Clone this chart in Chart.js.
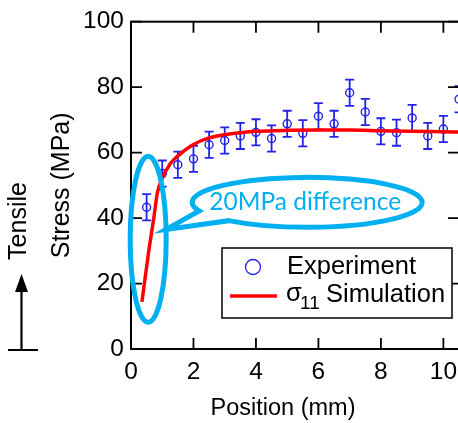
<!DOCTYPE html>
<html>
<head>
<meta charset="utf-8">
<script src="https://cdn.jsdelivr.net/npm/chart.js@4.4.1/dist/chart.umd.min.js"></script>
<style>
    html, body { margin: 0; padding: 0; background: #fff; }
    #wrap { width: 458px; height: 423px; overflow: hidden; position: relative; }
    canvas { display: block; }
</style>
</head>
<body>
<div id="wrap"><canvas id="myChart" width="475" height="423"></canvas></div>
<script>
// measured points (position in mm, stress in MPa, error bar half length)
const expPosition = [0.5, 1.0, 1.5, 2.0, 2.5, 3.0, 3.5, 4.0, 4.5, 5.0, 5.5, 6.0, 6.5, 7.0, 7.5, 8.0, 8.5, 9.0, 9.5, 10.0, 10.5];
const expStress = [43.3, 53.6, 56.3, 58.1, 62.4, 63.7, 65.1, 66.2, 64.3, 68.8, 65.9, 71.1, 68.8, 78.3, 72.4, 66.5, 66.1, 70.6, 65.1, 67.2, 76.3];
const expError = [4, 4, 4, 4, 4, 4, 4, 4, 4, 4, 4, 4, 4, 4, 4, 4, 4, 4, 4, 4, 4];

// simulated sigma_11
const simPosition = [0.35, 0.57, 0.73, 0.84, 0.97, 1.25, 1.5, 2.0, 2.5, 3.0, 3.5, 4.0, 5.0, 6.0, 7.0, 8.0, 9.0, 10.0, 10.6];
const simStress = [14.4, 30, 40, 47.5, 51.5, 56.5, 59, 62.5, 64.5, 65.5, 66.1, 66.5, 66.8, 66.9, 66.9, 66.7, 66.5, 66.4, 66.3];

const xTicks = [0, 2, 4, 6, 8, 10];
const yTicks = [0, 20, 40, 60, 80, 100];

const FONT = '"Liberation Sans", Arial, sans-serif';
const BLUE = '#2323E8';
const CYAN = '#00B0F0';

// error bars + inward ticks + frame + labels + callout
const extras = {
    id: 'extras',
    beforeDatasetsDraw(chart) {
        const ctx = chart.ctx;
        const xs = chart.scales.x, ys = chart.scales.y;
        const area = chart.chartArea;
        ctx.save();
        ctx.beginPath();
        ctx.rect(area.left, area.top - 10, area.right - area.left, area.bottom - area.top + 10);
        ctx.clip();
        ctx.strokeStyle = BLUE;
        ctx.lineWidth = 1.8;
        expPosition.forEach(function (p, i) {
            const x = xs.getPixelForValue(p);
            const y1 = ys.getPixelForValue(expStress[i] + expError[i]);
            const y2 = ys.getPixelForValue(expStress[i] - expError[i]);
            ctx.beginPath();
            ctx.moveTo(x, y1); ctx.lineTo(x, y2);
            ctx.moveTo(x - 4.5, y1); ctx.lineTo(x + 4.5, y1);
            ctx.moveTo(x - 4.5, y2); ctx.lineTo(x + 4.5, y2);
            ctx.stroke();
        });
        ctx.restore();
    },
    afterDraw(chart) {
        const ctx = chart.ctx;
        const xs = chart.scales.x, ys = chart.scales.y;
        const a = chart.chartArea;
        const tl = 11;
        ctx.save();
        // frame
        ctx.strokeStyle = '#000';
        ctx.lineWidth = 2;
        ctx.strokeRect(a.left, a.top, a.right - a.left, a.bottom - a.top);
        // inward ticks
        ctx.lineWidth = 1.8;
        ctx.beginPath();
        xTicks.forEach(function (v) {
            const x = xs.getPixelForValue(v);
            ctx.moveTo(x, a.bottom); ctx.lineTo(x, a.bottom - tl);
            ctx.moveTo(x, a.top); ctx.lineTo(x, a.top + tl);
        });
        yTicks.forEach(function (v) {
            const y = ys.getPixelForValue(v);
            ctx.moveTo(a.left, y); ctx.lineTo(a.left + tl, y);
            ctx.moveTo(a.right, y); ctx.lineTo(a.right - tl, y);
        });
        ctx.stroke();

        // x title
        ctx.fillStyle = '#000';
        ctx.font = '23.5px ' + FONT;
        ctx.textAlign = 'center';
        ctx.textBaseline = 'middle';
        ctx.fillText('Position (mm)', 283, 409);

        // "Tensile" and arrow
        ctx.save();
        ctx.translate(19, 221);
        ctx.rotate(-Math.PI / 2);
        ctx.font = '25px ' + FONT;
        ctx.fillText('Tensile', 0, 0);
        ctx.restore();
        ctx.lineWidth = 2.2;
        ctx.beginPath();
        ctx.moveTo(21.5, 350); ctx.lineTo(21.5, 288);
        ctx.moveTo(8, 350); ctx.lineTo(38, 350);
        ctx.stroke();
        ctx.beginPath();
        ctx.moveTo(21.5, 274); ctx.lineTo(15, 292); ctx.lineTo(28, 292);
        ctx.closePath();
        ctx.fill();

        // legend
        ctx.fillStyle = '#fff';
        ctx.fillRect(222, 248, 230, 70);
        ctx.lineWidth = 1.5;
        ctx.strokeStyle = '#000';
        ctx.strokeRect(222, 248, 230, 70);
        ctx.strokeStyle = BLUE;
        ctx.lineWidth = 1.3;
        ctx.beginPath();
        ctx.arc(253, 267, 7.5, 0, Math.PI * 2);
        ctx.stroke();
        ctx.strokeStyle = '#FF0000';
        ctx.lineWidth = 3.5;
        ctx.beginPath();
        ctx.moveTo(230, 296); ctx.lineTo(277, 296);
        ctx.stroke();
        ctx.fillStyle = '#000';
        ctx.textAlign = 'left';
        ctx.font = '25.5px ' + FONT;
        ctx.fillText('Experiment', 287, 267);
        ctx.fillText('\u03C3', 286, 294);
        ctx.font = '19px ' + FONT;
        ctx.fillText('11', 300, 304);
        ctx.font = '25.5px ' + FONT;
        ctx.fillText('Simulation', 326, 295);

        // callout ellipses
        ctx.strokeStyle = CYAN;
        ctx.lineWidth = 5;
        const ex = xs.getPixelForValue(0.55), ey = ys.getPixelForValue(33.5);
        ctx.beginPath();
        ctx.ellipse(ex, ey, 18, 83, 0, 0, Math.PI * 2);
        ctx.stroke();

        const bx = xs.getPixelForValue(5.64), by = ys.getPixelForValue(44.8);
        const rx = 115, ry = 25;
        const aStart = 133 * Math.PI / 180, aEnd = 160 * Math.PI / 180;
        ctx.beginPath();
        ctx.ellipse(bx, by, rx, ry, 0, aStart, aEnd, true);
        ctx.lineTo(bx - 141, by + 27);
        ctx.closePath();
        ctx.lineJoin = 'miter';
        ctx.stroke();

        ctx.fillStyle = CYAN;
        ctx.font = '24.5px Lato, "Open Sans", sans-serif';
        ctx.textAlign = 'center';
        ctx.fillText('20MPa difference', bx - 2, by);
        ctx.restore();
    }
};

const ctx1 = document.getElementById('myChart');

new Chart(ctx1, {
    type: 'scatter',
    data: {
        datasets: [{
            label: 'σ11 Simulation',
            data: simPosition.map(function (p, i) { return { x: p, y: simStress[i] }; }),
            showLine: true,
            borderColor: '#FF0000',
            borderWidth: 3.5,
            pointRadius: 0,
            cubicInterpolationMode: 'monotone',
            order: 0
        }, {
            label: 'Experiment',
            data: expPosition.map(function (p, i) { return { x: p, y: expStress[i] }; }),
            pointStyle: 'circle',
            pointRadius: 4,
            borderColor: BLUE,
            backgroundColor: 'rgba(0,0,0,0)',
            borderWidth: 1.4,
            order: 1
        }]
    },
    options: {
        responsive: false,
        animation: false,
        devicePixelRatio: 1,
        layout: { padding: { top: 21, right: 16, left: 0, bottom: 0 } },
        plugins: {
            legend: { display: false },
            tooltip: { enabled: false }
        },
        scales: {
            x: {
                type: 'linear',
                min: 0,
                max: 10.5,
                grid: { display: false, drawTicks: false },
                border: { display: false },
                ticks: {
                    stepSize: 2,
                    includeBounds: false,
                    padding: 9,
                    color: '#000',
                    font: { family: FONT, size: 24.5 }
                },
                afterFit: function (scale) { scale.height = 74; }
            },
            y: {
                min: 0,
                max: 100,
                grid: { display: false, drawTicks: false },
                border: { display: false },
                ticks: {
                    stepSize: 20,
                    padding: 7,
                    color: '#000',
                    font: { family: FONT, size: 24.5 }
                },
                title: {
                    display: true,
                    text: 'Stress (MPa)',
                    color: '#000',
                    font: { family: FONT, size: 25 },
                    padding: { top: 47, bottom: 0 }
                },
                afterFit: function (scale) { scale.width = 131; }
            }
        }
    },
    plugins: [extras]
});
</script>
</body>
</html>
